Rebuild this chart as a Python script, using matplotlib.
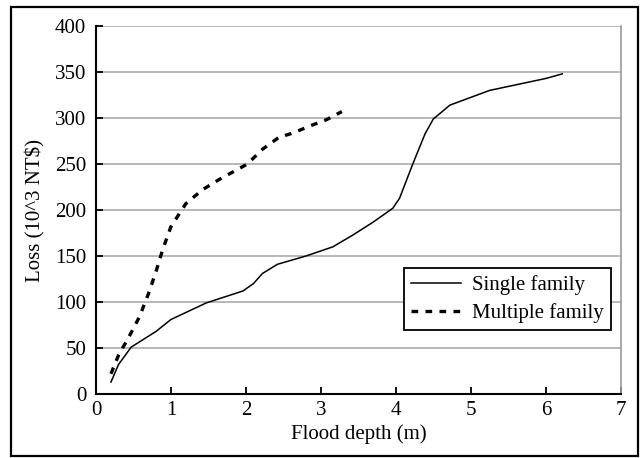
import matplotlib
matplotlib.use("Agg")
import matplotlib.pyplot as plt
from matplotlib.patches import Rectangle

plt.rcParams['font.family'] = ['Liberation Serif', 'DejaVu Serif']
plt.rcParams['font.size'] = 15

single_x = [0.2, 0.3, 0.47, 0.8, 1.0, 1.47, 1.96, 2.1, 2.22, 2.42, 2.8, 3.16, 3.43, 3.7, 3.96, 4.05, 4.23, 4.39, 4.5, 4.72, 5.25, 6.0, 6.22]
single_y = [13, 32, 51, 68, 81, 99, 112, 120, 131, 141, 150, 160, 173, 187, 202, 213, 251, 283, 299, 314, 330, 343, 348]
multi_x = [0.2, 0.31, 0.42, 0.58, 0.7, 0.8, 0.89, 1.0, 1.2, 1.42, 1.64, 1.84, 2.02, 2.22, 2.44, 2.64, 2.84, 3.07, 3.28]
multi_y = [22, 44, 59, 84, 109, 133, 157, 182, 207, 222, 233, 242, 250, 266, 279, 284, 291, 298, 307]
x_ticks = [0, 1, 2, 3, 4, 5, 6, 7]
y_ticks = [0, 50, 100, 150, 200, 250, 300, 350, 400]

fig = plt.figure(figsize=(6.42, 4.58), dpi=100)
ax = fig.add_axes([0.1495, 0.1397, 0.8175, 0.8035])

ax.plot(single_x, single_y, color='black', lw=1.1, label='Single family')
ax.plot(multi_x, multi_y, color='black', lw=2.4, dashes=(2.0, 2.2), label='Multiple family')

ax.set_xlim(0, 7)
ax.set_ylim(0, 400)
ax.set_xticks(x_ticks)
ax.set_yticks(y_ticks)
ax.yaxis.grid(True, color='#b8b8b8', lw=1.4)
ax.set_axisbelow(True)
for s in ['left', 'bottom']:
    ax.spines[s].set_color('black')
    ax.spines[s].set_linewidth(1.5)
ax.spines['top'].set_visible(False)
ax.spines['right'].set_color('#999999')
ax.spines['right'].set_linewidth(1.2)
ax.tick_params(axis='both', direction='in', length=5, width=1.3, color='black', labelsize=15)
ax.tick_params(axis='y', pad=7)
ax.tick_params(axis='x', pad=5)
ax.set_xlabel('Flood depth (m)', fontsize=15, labelpad=3)
ax.set_ylabel('Loss (10^3 NT$)', fontsize=15, labelpad=7)

leg = ax.legend(loc='upper right', bbox_to_anchor=(0.981, 0.342), borderaxespad=0,
                fancybox=False, edgecolor='black', framealpha=1, handlelength=2.4,
                handletextpad=0.5, labelspacing=0.38, fontsize=15, borderpad=0.35)
leg.get_frame().set_linewidth(1.3)

fig.patches.append(Rectangle((11/642, 1 - 456/458), 627/642, 449/458, transform=fig.transFigure,
                             fill=False, edgecolor='black', lw=1.6))

fig.savefig('out.png', dpi=100)
